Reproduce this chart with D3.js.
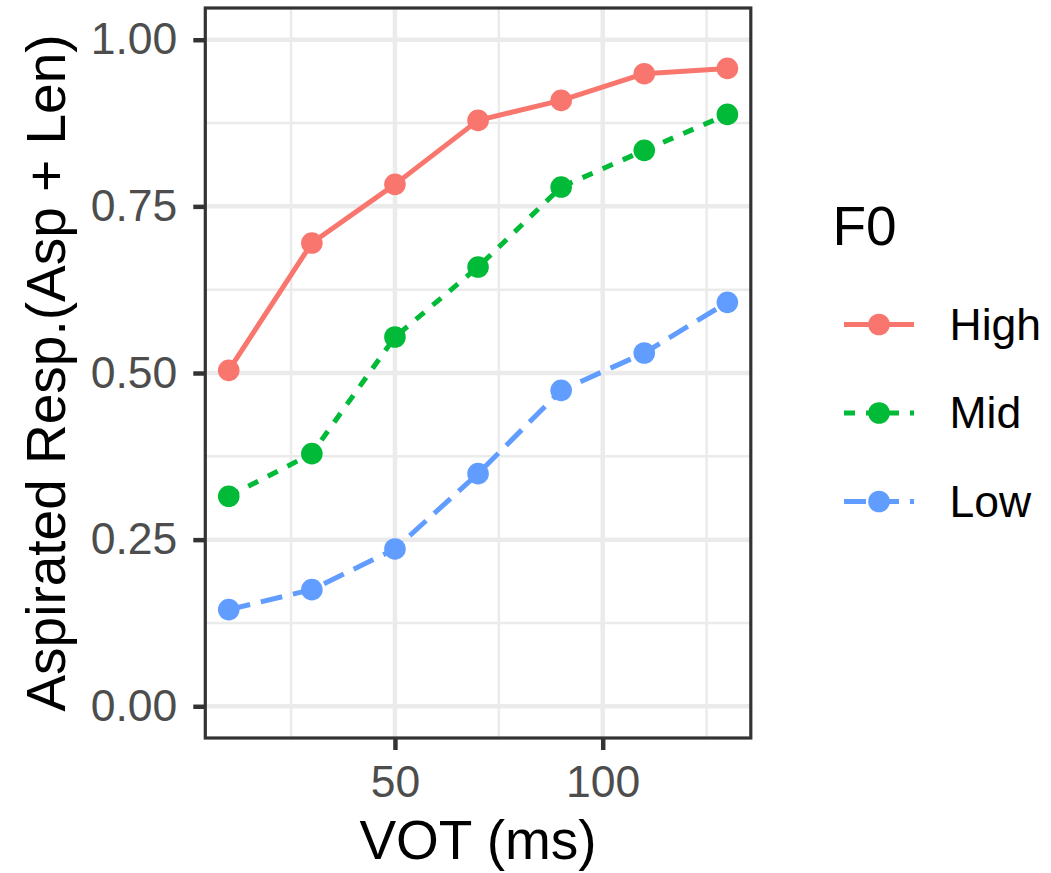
<!DOCTYPE html>
<html>
<head>
<meta charset="utf-8">
<script src="https://cdn.jsdelivr.net/npm/d3@7"></script>
<style>
  html, body { margin: 0; padding: 0; background: #ffffff; }
  svg { display: block; }
  text { font-family: "Liberation Sans", Arial, sans-serif; }
</style>
</head>
<body>
<svg id="chart" width="1051" height="873"></svg>
<script>
// ---- data ----
const vot = [10, 30, 50, 70, 90, 110, 130];
const seriesNames = ["High", "Mid", "Low"];
const highValues = [0.504, 0.695, 0.783, 0.879, 0.909, 0.949, 0.957];
const midValues  = [0.315, 0.379, 0.554, 0.659, 0.779, 0.834, 0.888];
const lowValues  = [0.145, 0.175, 0.236, 0.349, 0.474, 0.530, 0.606];
const xTickValues = [50, 100];
const xMinorValues = [25, 75, 125];
const yTickValues = [0, 0.25, 0.5, 0.75, 1.0];
const yTickLabels = ["0.00", "0.25", "0.50", "0.75", "1.00"];
const yMinorValues = [0.125, 0.375, 0.625, 0.875];
const xTitle = "VOT (ms)";
const yTitle = "Aspirated Resp.(Asp + Len)";
const legendTitle = "F0";

const colors = { High: "#F8766D", Mid: "#00BA38", Low: "#619CFF" };
const dashes = { High: null, Mid: "11,11", Low: "22,11" };
const valuesBy = { High: highValues, Mid: midValues, Low: lowValues };

// ---- layout ----
const svg = d3.select("#chart");
const pLeft = 203.8, pRight = 752.3, pTop = 6.4, pBottom = 739.6;
const x = d3.scaleLinear().domain([4, 136]).range([pLeft, pRight]);
const y = d3.scaleLinear().domain([-0.05, 1.05]).range([pBottom, pTop]);
const tickFont = 44.5, titleFont = 55;

const grid = svg.append("g");
// minor grid
grid.selectAll(null).data(xMinorValues).enter().append("line")
  .attr("x1", d => x(d)).attr("x2", d => x(d)).attr("y1", pTop).attr("y2", pBottom)
  .attr("stroke", "#EBEBEB").attr("stroke-width", 2.5);
grid.selectAll(null).data(yMinorValues).enter().append("line")
  .attr("y1", d => y(d)).attr("y2", d => y(d)).attr("x1", pLeft).attr("x2", pRight)
  .attr("stroke", "#EBEBEB").attr("stroke-width", 2.5);
// major grid
grid.selectAll(null).data(xTickValues).enter().append("line")
  .attr("x1", d => x(d)).attr("x2", d => x(d)).attr("y1", pTop).attr("y2", pBottom)
  .attr("stroke", "#EBEBEB").attr("stroke-width", 4.5);
grid.selectAll(null).data(yTickValues).enter().append("line")
  .attr("y1", d => y(d)).attr("y2", d => y(d)).attr("x1", pLeft).attr("x2", pRight)
  .attr("stroke", "#EBEBEB").attr("stroke-width", 4.5);

// lines
const line = d3.line().x(d => x(d[0])).y(d => y(d[1]));
const gLines = svg.append("g");
seriesNames.forEach(name => {
  const pts = vot.map((v, i) => [v, valuesBy[name][i]]);
  gLines.append("path").datum(pts)
    .attr("d", line)
    .attr("fill", "none")
    .attr("stroke", colors[name])
    .attr("stroke-width", 5)
    .attr("stroke-linecap", "butt")
    .attr("stroke-linejoin", "round")
    .attr("stroke-dasharray", dashes[name]);
});
// points
const gPts = svg.append("g");
seriesNames.forEach(name => {
  gPts.selectAll(null).data(vot.map((v, i) => [v, valuesBy[name][i]])).enter()
    .append("circle")
    .attr("cx", d => x(d[0])).attr("cy", d => y(d[1])).attr("r", 10.8)
    .attr("fill", colors[name]);
});

// panel border
svg.append("rect")
  .attr("x", pLeft + 1.5).attr("y", pTop + 1.6)
  .attr("width", pRight - pLeft - 3).attr("height", pBottom - pTop - 3.2)
  .attr("fill", "none").attr("stroke", "#333333").attr("stroke-width", 3.2);

// axes
const xAxis = d3.axisBottom(x).tickValues(xTickValues).tickSize(12).tickPadding(15)
  .tickFormat(d3.format("d"));
const gx = svg.append("g").attr("transform", `translate(0,${pBottom - 1.6})`).call(xAxis);
gx.select(".domain").remove();
gx.selectAll(".tick line").attr("stroke", "#333333").attr("stroke-width", 4.5);
gx.selectAll(".tick text").attr("fill", "#4D4D4D").attr("font-size", tickFont)
  .attr("font-family", "Liberation Sans, Arial, sans-serif");

const yAxis = d3.axisLeft(y).tickValues(yTickValues).tickSize(12).tickPadding(16)
  .tickFormat((d, i) => yTickLabels[i]);
const gy = svg.append("g").attr("transform", `translate(${pLeft + 1.5},0)`).call(yAxis);
gy.select(".domain").remove();
gy.selectAll(".tick line").attr("stroke", "#333333").attr("stroke-width", 4.5);
gy.selectAll(".tick text").attr("fill", "#4D4D4D").attr("font-size", tickFont)
  .attr("font-family", "Liberation Sans, Arial, sans-serif");

// axis titles
svg.append("text").attr("x", (pLeft + pRight) / 2).attr("y", 859)
  .attr("text-anchor", "middle").attr("font-size", titleFont).attr("fill", "#000")
  .text(xTitle);
svg.append("text")
  .attr("transform", `translate(65,${(pTop + pBottom) / 2}) rotate(-90)`)
  .attr("text-anchor", "middle").attr("font-size", titleFont).attr("fill", "#000")
  .text(yTitle);

// legend
const lg = svg.append("g");
lg.append("text").attr("x", 832.5).attr("y", 245).attr("font-size", titleFont).attr("fill", "#000")
  .text(legendTitle);
const keyY = d3.scalePoint().domain(seriesNames).range([324.5, 501.5]);
seriesNames.forEach(name => {
  const cy = keyY(name);
  lg.append("line").attr("x1", 844).attr("x2", 914).attr("y1", cy).attr("y2", cy)
    .attr("stroke", colors[name]).attr("stroke-width", 5)
    .attr("stroke-dasharray", dashes[name]);
  lg.append("circle").attr("cx", 879).attr("cy", cy).attr("r", 10.8).attr("fill", colors[name]);
  lg.append("text").attr("x", 949.5).attr("y", cy + 15).attr("font-size", tickFont).attr("fill", "#000")
    .text(name);
});
</script>
</body>
</html>
